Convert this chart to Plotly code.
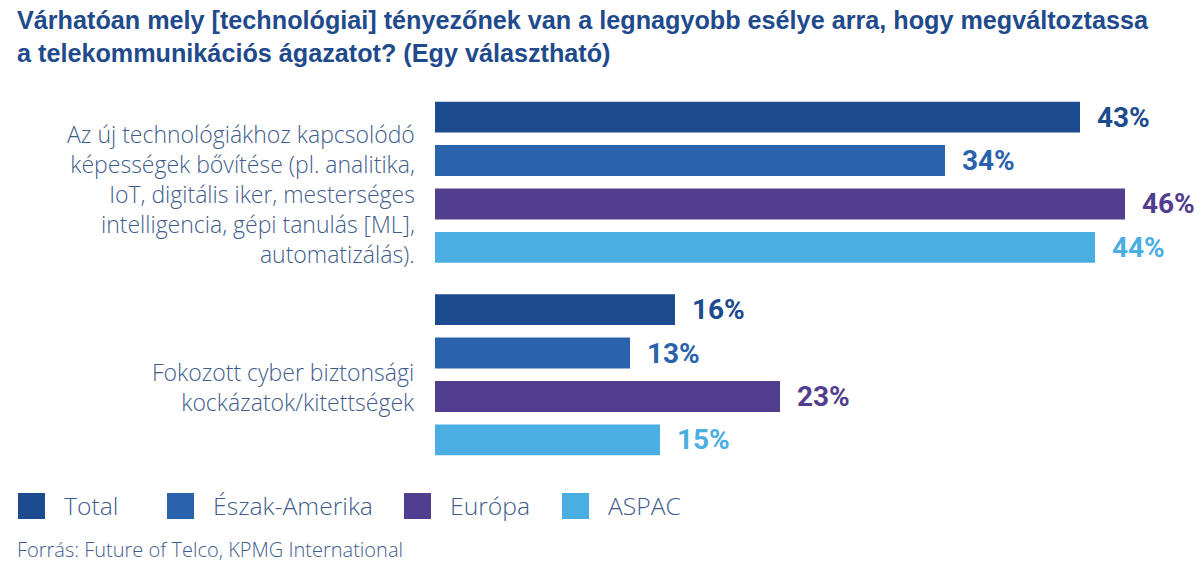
import plotly.graph_objects as go

title_text = ("Várhatóan mely [technológiai] tényezőnek van a legnagyobb esélye arra, hogy megváltoztassa<br>"
              "a telekommunikációs ágazatot? (Egy választható)")
categories = [
    "Az új technológiákhoz kapcsolódó<br>képességek bővítése (pl. analitika,<br>IoT, digitális iker, mesterséges<br>intelligencia, gépi tanulás [ML],<br>automatizálás).",
    "Fokozott cyber biztonsági<br>kockázatok/kitettségek",
]
series_names = ["Total", "Észak-Amerika", "Európa", "ASPAC"]
series_colors = ["#1D4B8F", "#2A62AC", "#523E8F", "#4BAEE2"]
total = [43, 16]
north_america = [34, 13]
europe = [46, 23]
aspac = [44, 15]
series_values = [total, north_america, europe, aspac]
source_text = "Forrás: Future of Telco, KPMG International"

label_color = "#3F5D8C"
title_color = "#1F4A8C"
light = "Open Sans, Liberation Sans, Arial, sans-serif"
bold = "Liberation Sans, Arial, sans-serif"
num = "Roboto, Liberation Sans, sans-serif"

W, H = 1200, 586
ML, MR, MT, MB = 435, 15, 86, 115
PW, PH = W - ML - MR, H - MT - MB


def px(xpx):
    return (xpx - ML) / PW


def py(ypx):
    return (H - MB - ypx) / PH


fig = go.Figure()
for name, color, vals in zip(series_names, series_colors, series_values):
    fig.add_trace(go.Bar(
        y=categories, x=vals, name=name, orientation="h",
        marker=dict(color=color, line=dict(width=0)),
        text=[f"\u00a0\u00a0{v}%" for v in vals], textposition="outside",
        textfont=dict(family=num, size=28, color=color, weight="bold"),
        cliponaxis=False, constraintext="none", showlegend=False,
    ))

fig.update_layout(
    width=W, height=H,
    margin=dict(l=ML, r=MR, t=MT, b=MB),
    paper_bgcolor="white", plot_bgcolor="white",
    barmode="group", bargap=0.098, bargroupgap=0.287,
    xaxis=dict(range=[0, 50], visible=False, fixedrange=True),
    yaxis=dict(autorange="reversed", showticklabels=False, showgrid=False,
               zeroline=False, showline=False, ticks="", fixedrange=True),
    showlegend=False,
)

# title
fig.add_annotation(x=px(15), xref="paper", y=py(4), yref="paper", xanchor="left", yanchor="top",
                   text=title_text, align="left", showarrow=False,
                   font=dict(family=bold, size=25.2, color=title_color, weight="bold"))

# category labels
for cat in categories:
    fig.add_annotation(x=0, xref="paper", y=cat, yref="y", xanchor="right", yanchor="middle",
                       xshift=-18, yshift=-12, text=cat, align="right", showarrow=False,
                       font=dict(family=light, size=23, color=label_color, weight=300))

# legend (large square swatches)
legend_x = [18, 167, 404, 562]
for name, color, lx in zip(series_names, series_colors, legend_x):
    x0, x1 = px(lx), px(lx + 27)
    y_top, y_bot = py(493), py(519)
    fig.add_shape(type="rect", xref="paper", yref="paper", x0=x0, x1=x1, y0=y_bot, y1=y_top,
                  line=dict(width=0), fillcolor=color)
    fig.add_annotation(x=x1, xref="paper", xshift=17, y=(y_top + y_bot) / 2, yref="paper",
                       xanchor="left", yanchor="middle", text=name, showarrow=False,
                       font=dict(family=light, size=24.7, color=label_color, weight=300))

# source
fig.add_annotation(x=px(15), xref="paper", y=py(549), yref="paper",
                   xanchor="left", yanchor="middle", text=source_text, showarrow=False,
                   font=dict(family=light, size=20, color=label_color, weight=300))

fig.write_html("out.html", config={"displayModeBar": False},
               post_script="document.body.style.margin='0';")
